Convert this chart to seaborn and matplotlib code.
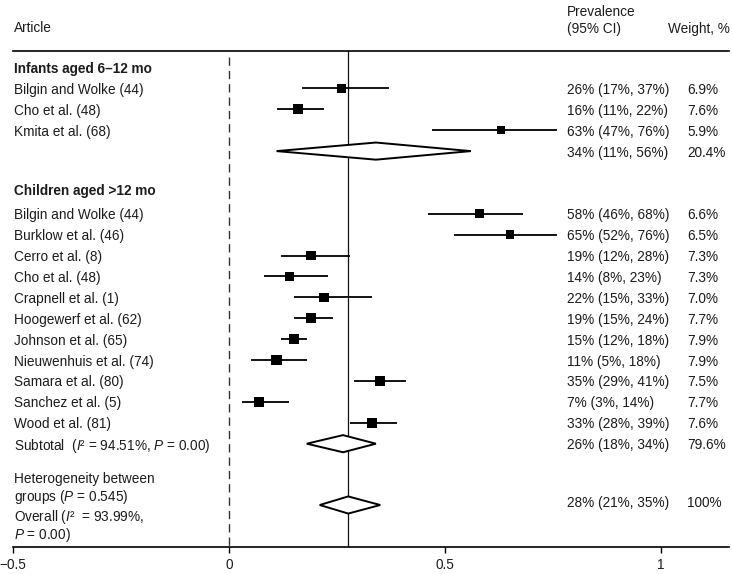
import matplotlib
matplotlib.use("Agg")
import matplotlib.pyplot as plt
import matplotlib.transforms as mtransforms
import seaborn as sns
import numpy as np

# ---------------- data ----------------
infant_labels = ["Bilgin and Wolke (44)", "Cho et al. (48)", "Kmita et al. (68)"]
infant_est = [0.26, 0.16, 0.63]
infant_lo = [0.17, 0.11, 0.47]
infant_hi = [0.37, 0.22, 0.76]
infant_wt = [6.9, 7.6, 5.9]
infant_sub = (0.34, 0.11, 0.56, 20.4)

child_labels = ["Bilgin and Wolke (44)", "Burklow et al. (46)", "Cerro et al. (8)",
                "Cho et al. (48)", "Crapnell et al. (1)", "Hoogewerf et al. (62)",
                "Johnson et al. (65)", "Nieuwenhuis et al. (74)", "Samara et al. (80)",
                "Sanchez et al. (5)", "Wood et al. (81)"]
child_est = [0.58, 0.65, 0.19, 0.14, 0.22, 0.19, 0.15, 0.11, 0.35, 0.07, 0.33]
child_lo = [0.46, 0.52, 0.12, 0.08, 0.15, 0.15, 0.12, 0.05, 0.29, 0.03, 0.28]
child_hi = [0.68, 0.76, 0.28, 0.23, 0.33, 0.24, 0.18, 0.18, 0.41, 0.14, 0.39]
child_wt = [6.6, 6.5, 7.3, 7.3, 7.0, 7.7, 7.9, 7.9, 7.5, 7.7, 7.6]
child_sub = (0.264, 0.18, 0.34, 79.6)

overall = (0.276, 0.21, 0.35, 100)

xticks = [-0.5, 0, 0.5, 1]
xticklabels = ["\u22120.5", "0", "0.5", "1"]

# ---------------- style ----------------
sns.set_theme(style="white")
plt.rcParams["font.family"] = ["Liberation Sans", "DejaVu Sans"]
plt.rcParams["mathtext.fontset"] = "custom"
plt.rcParams["mathtext.rm"] = "Liberation Sans"
plt.rcParams["mathtext.it"] = "Liberation Sans:italic"
TXT = "#1c1c1c"
FS = 9.8

W, H = 732, 574
fig = plt.figure(figsize=(W / 100, H / 100), dpi=100)
left_px, right_px, top_px, bot_px = 13, 729, 51, 547
ax = fig.add_axes([left_px / W, (H - bot_px) / H, (right_px - left_px) / W, (bot_px - top_px) / H])

row_px0, row_step = 67.5, 20.9
def px2row(p):
    return (p - row_px0) / row_step

ax.set_xlim(-0.5, -0.5 + (right_px - left_px) / 432.0)
ax.set_ylim(px2row(bot_px), px2row(top_px))

# rows
infant_rows = [1, 2, 3]
infant_sub_row = 4
child_header_row = px2row(190)
child_rows = list(range(7, 18))
child_sub_row = 18
overall_row = px2row(505)

# reference lines
ax.vlines(0, px2row(57), px2row(bot_px), color="#333333", lw=1.0,
          linestyles=[(0, (6, 3.6))], zorder=1)
ax.axvline(overall[0], color="#111111", lw=0.9, zorder=1)

# error bars + squares
all_est = infant_est + child_est
all_lo = infant_lo + child_lo
all_hi = infant_hi + child_hi
all_wt = infant_wt + child_wt
all_rows = infant_rows + child_rows
ax.hlines(all_rows, all_lo, all_hi, color="black", lw=1.3, zorder=2)
sizes = [(w * 1.32 * 0.72) ** 2 for w in all_wt]
sns.scatterplot(x=all_est, y=all_rows, marker="s", color="black", s=sizes,
                linewidth=0, legend=False, ax=ax, zorder=3)

# diamonds
dh = 0.41
for (est, lo, hi, wt), r in [(infant_sub, infant_sub_row), (child_sub, child_sub_row),
                             (overall, overall_row)]:
    ax.fill([lo, est, hi, est, lo], [r, r - dh, r, r + dh, r],
            facecolor="white", edgecolor="black", lw=1.4, zorder=4, joinstyle="miter")

# spines / ticks
for s in ["left", "right"]:
    ax.spines[s].set_visible(False)
for s in ["bottom", "top"]:
    ax.spines[s].set_linewidth(1.2)
    ax.spines[s].set_color("black")
ax.set_yticks([])
ax.set_xticks(xticks)
ax.set_xticklabels(xticklabels)
ax.tick_params(axis="x", direction="out", length=4, width=1, colors="black",
               labelsize=FS, labelcolor=TXT, pad=4, bottom=True)
ax.set_facecolor("white")

# text
tl = mtransforms.blended_transform_factory(ax.transAxes, ax.transData)
def ax_frac(p):
    return (p - left_px) / (right_px - left_px)

x_lab = ax_frac(14)
x_prev = ax_frac(567)
x_wt = ax_frac(687)

def put(x, y, s, **kw):
    ax.text(x, y, s, transform=tl, ha="left", va="center_baseline", fontsize=FS,
            color=TXT, clip_on=False, **kw)

put(x_lab, px2row(27), "Article")
put(x_prev, px2row(11), "Prevalence")
put(x_prev, px2row(28), "(95% CI)")
put(ax_frac(668), px2row(27), "Weight, %")

put(x_lab, 0, "Infants aged 6\u201312 mo", fontweight="bold")
put(x_lab, child_header_row, "Children aged >12 mo", fontweight="bold")

def pct(v):
    return f"{round(v * 100):d}%"

for lab, r, e, lo, hi, w in zip(infant_labels + child_labels, all_rows, all_est,
                                all_lo, all_hi, all_wt):
    put(x_lab, r, lab)
    put(x_prev, r, f"{pct(e)} ({pct(lo)}, {pct(hi)})")
    put(x_wt, r, f"{w:.1f}%")

for (est, lo, hi, wt), r in [(infant_sub, infant_sub_row), (child_sub, child_sub_row)]:
    put(x_prev, r, f"{pct(est)} ({pct(lo)}, {pct(hi)})")
    put(x_wt, r, f"{wt:.1f}%")
put(x_prev, px2row(502), f"{pct(overall[0])} ({pct(overall[1])}, {pct(overall[2])})")
put(x_wt, px2row(502), f"{overall[3]}%")

put(x_lab, child_sub_row, "Subtotal  ($I$\u00b2 = 94.51%, $P$ = 0.00)")
put(x_lab, px2row(478), "Heterogeneity between")
put(x_lab, px2row(495), "groups ($P$ = 0.545)")
put(x_lab, px2row(515), "Overall ($I$\u00b2  = 93.99%,")
put(x_lab, px2row(532), "$P$ = 0.00)")

fig.savefig("out.png", dpi=100, facecolor="white")
